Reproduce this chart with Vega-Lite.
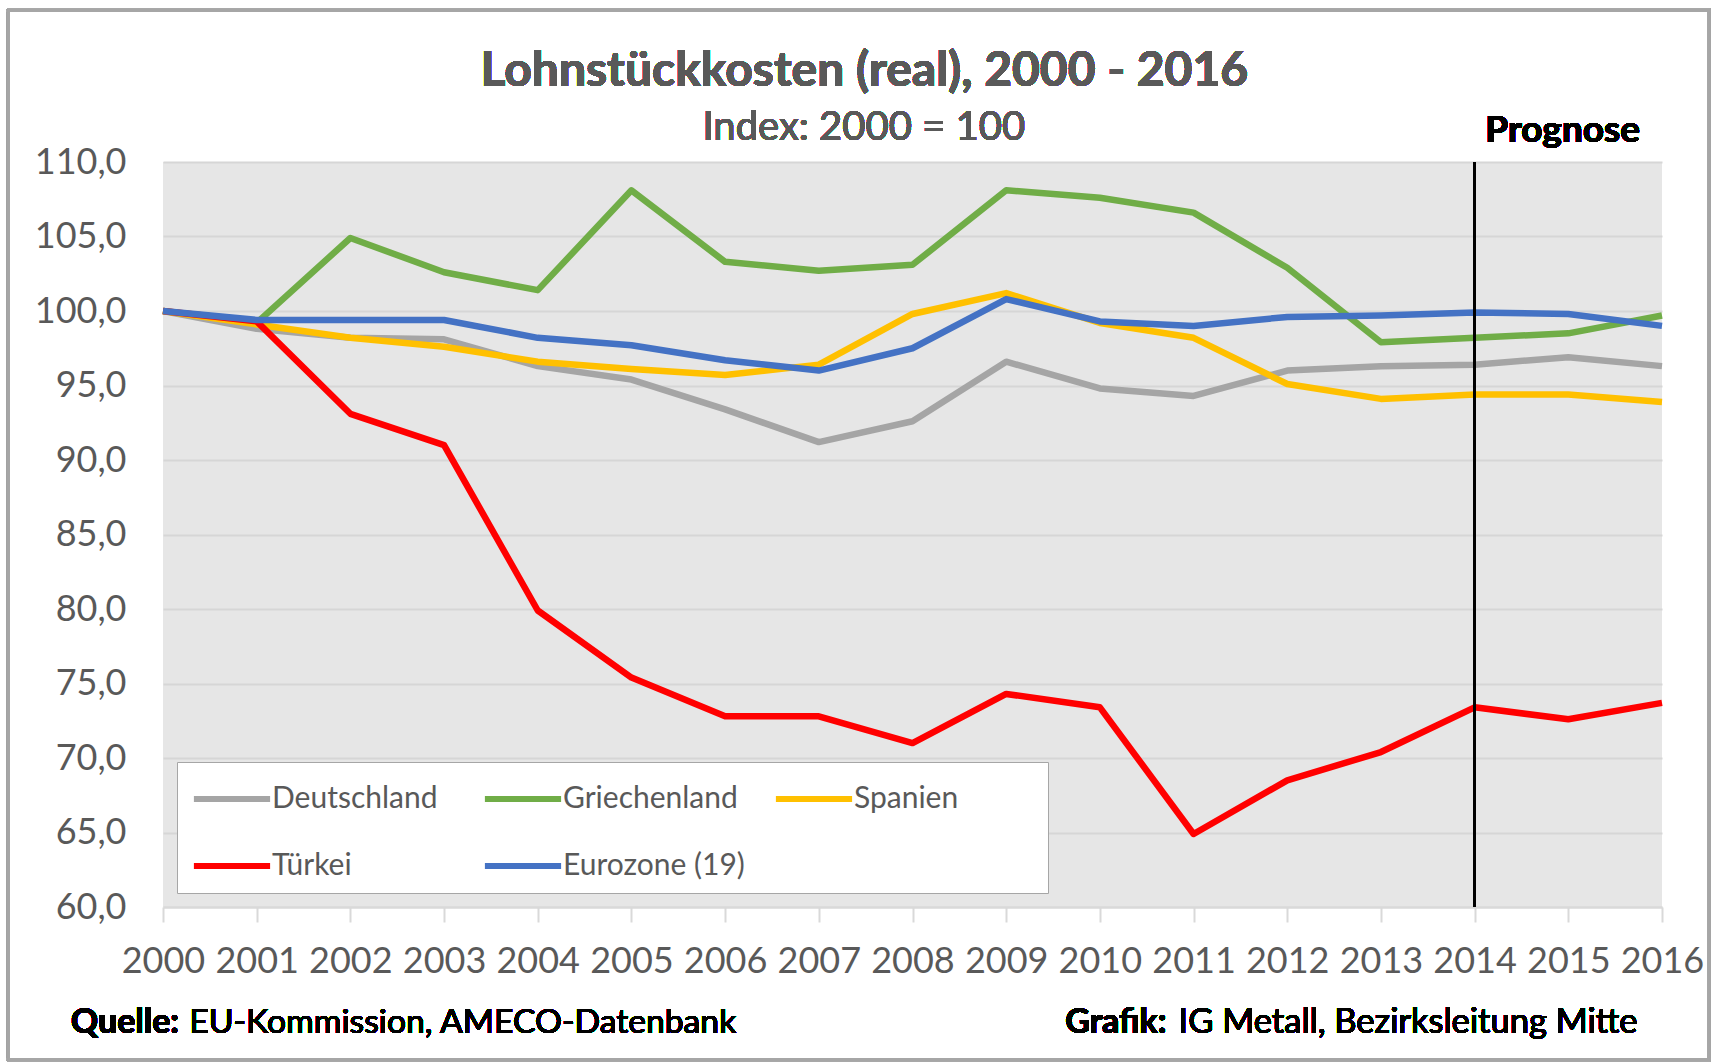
{
  "$schema": "https://vega.github.io/schema/vega-lite/v6.json",
  "width": 1499,
  "height": 745,
  "autosize": {"type": "none"},
  "padding": {"left": 163, "top": 162, "right": 57, "bottom": 156},
  "background": "white",
  "data": {
    "values": [
      {"year": 2000, "series": "Deutschland", "value": 100.0},
      {"year": 2001, "series": "Deutschland", "value": 98.8},
      {"year": 2002, "series": "Deutschland", "value": 98.2},
      {"year": 2003, "series": "Deutschland", "value": 98.1},
      {"year": 2004, "series": "Deutschland", "value": 96.3},
      {"year": 2005, "series": "Deutschland", "value": 95.4},
      {"year": 2006, "series": "Deutschland", "value": 93.4},
      {"year": 2007, "series": "Deutschland", "value": 91.2},
      {"year": 2008, "series": "Deutschland", "value": 92.6},
      {"year": 2009, "series": "Deutschland", "value": 96.6},
      {"year": 2010, "series": "Deutschland", "value": 94.8},
      {"year": 2011, "series": "Deutschland", "value": 94.3},
      {"year": 2012, "series": "Deutschland", "value": 96.0},
      {"year": 2013, "series": "Deutschland", "value": 96.3},
      {"year": 2014, "series": "Deutschland", "value": 96.4},
      {"year": 2015, "series": "Deutschland", "value": 96.9},
      {"year": 2016, "series": "Deutschland", "value": 96.3},
      {"year": 2000, "series": "Griechenland", "value": 100.0},
      {"year": 2001, "series": "Griechenland", "value": 99.2},
      {"year": 2002, "series": "Griechenland", "value": 104.9},
      {"year": 2003, "series": "Griechenland", "value": 102.6},
      {"year": 2004, "series": "Griechenland", "value": 101.4},
      {"year": 2005, "series": "Griechenland", "value": 108.1},
      {"year": 2006, "series": "Griechenland", "value": 103.3},
      {"year": 2007, "series": "Griechenland", "value": 102.7},
      {"year": 2008, "series": "Griechenland", "value": 103.1},
      {"year": 2009, "series": "Griechenland", "value": 108.1},
      {"year": 2010, "series": "Griechenland", "value": 107.6},
      {"year": 2011, "series": "Griechenland", "value": 106.6},
      {"year": 2012, "series": "Griechenland", "value": 102.9},
      {"year": 2013, "series": "Griechenland", "value": 97.9},
      {"year": 2014, "series": "Griechenland", "value": 98.2},
      {"year": 2015, "series": "Griechenland", "value": 98.5},
      {"year": 2016, "series": "Griechenland", "value": 99.7},
      {"year": 2000, "series": "Spanien", "value": 100.0},
      {"year": 2001, "series": "Spanien", "value": 99.1},
      {"year": 2002, "series": "Spanien", "value": 98.2},
      {"year": 2003, "series": "Spanien", "value": 97.6},
      {"year": 2004, "series": "Spanien", "value": 96.6},
      {"year": 2005, "series": "Spanien", "value": 96.1},
      {"year": 2006, "series": "Spanien", "value": 95.7},
      {"year": 2007, "series": "Spanien", "value": 96.4},
      {"year": 2008, "series": "Spanien", "value": 99.8},
      {"year": 2009, "series": "Spanien", "value": 101.2},
      {"year": 2010, "series": "Spanien", "value": 99.2},
      {"year": 2011, "series": "Spanien", "value": 98.2},
      {"year": 2012, "series": "Spanien", "value": 95.1},
      {"year": 2013, "series": "Spanien", "value": 94.1},
      {"year": 2014, "series": "Spanien", "value": 94.4},
      {"year": 2015, "series": "Spanien", "value": 94.4},
      {"year": 2016, "series": "Spanien", "value": 93.9},
      {"year": 2000, "series": "Türkei", "value": 100.0},
      {"year": 2001, "series": "Türkei", "value": 99.3},
      {"year": 2002, "series": "Türkei", "value": 93.1},
      {"year": 2003, "series": "Türkei", "value": 91.0},
      {"year": 2004, "series": "Türkei", "value": 79.9},
      {"year": 2005, "series": "Türkei", "value": 75.4},
      {"year": 2006, "series": "Türkei", "value": 72.8},
      {"year": 2007, "series": "Türkei", "value": 72.8},
      {"year": 2008, "series": "Türkei", "value": 71.0},
      {"year": 2009, "series": "Türkei", "value": 74.3},
      {"year": 2010, "series": "Türkei", "value": 73.4},
      {"year": 2011, "series": "Türkei", "value": 64.9},
      {"year": 2012, "series": "Türkei", "value": 68.5},
      {"year": 2013, "series": "Türkei", "value": 70.4},
      {"year": 2014, "series": "Türkei", "value": 73.4},
      {"year": 2015, "series": "Türkei", "value": 72.6},
      {"year": 2016, "series": "Türkei", "value": 73.7},
      {"year": 2000, "series": "Eurozone (19)", "value": 100.0},
      {"year": 2001, "series": "Eurozone (19)", "value": 99.4},
      {"year": 2002, "series": "Eurozone (19)", "value": 99.4},
      {"year": 2003, "series": "Eurozone (19)", "value": 99.4},
      {"year": 2004, "series": "Eurozone (19)", "value": 98.2},
      {"year": 2005, "series": "Eurozone (19)", "value": 97.7},
      {"year": 2006, "series": "Eurozone (19)", "value": 96.7},
      {"year": 2007, "series": "Eurozone (19)", "value": 96.0},
      {"year": 2008, "series": "Eurozone (19)", "value": 97.5},
      {"year": 2009, "series": "Eurozone (19)", "value": 100.8},
      {"year": 2010, "series": "Eurozone (19)", "value": 99.3},
      {"year": 2011, "series": "Eurozone (19)", "value": 99.0},
      {"year": 2012, "series": "Eurozone (19)", "value": 99.6},
      {"year": 2013, "series": "Eurozone (19)", "value": 99.7},
      {"year": 2014, "series": "Eurozone (19)", "value": 99.9},
      {"year": 2015, "series": "Eurozone (19)", "value": 99.8},
      {"year": 2016, "series": "Eurozone (19)", "value": 99.0}
    ]
  },
  "layer": [
    {
      "mark": {"type": "line", "strokeWidth": 6.5, "strokeJoin": "round", "strokeCap": "butt"},
      "encoding": {
        "x": {
          "field": "year", "type": "quantitative", "title": null,
          "scale": {"domain": [2000, 2016], "nice": false, "zero": false},
          "axis": {
            "values": [2000, 2001, 2002, 2003, 2004, 2005, 2006, 2007, 2008, 2009, 2010, 2011, 2012, 2013, 2014, 2015, 2016],
            "format": "d", "grid": false, "domain": true, "domainColor": "#d9d9d9", "domainWidth": 2,
            "ticks": true, "tickSize": 15, "tickColor": "#d9d9d9", "tickWidth": 2,
            "labelFont": "Lato", "labelFontSize": 36, "labelColor": "#595959", "labelPadding": 22,
            "labelFlush": false, "labelOverlap": false, "labelBound": false
          }
        },
        "y": {
          "field": "value", "type": "quantitative", "title": null,
          "scale": {"domain": [60, 110], "nice": false, "zero": false},
          "axis": {
            "values": [60, 65, 70, 75, 80, 85, 90, 95, 100, 105, 110],
            "labelExpr": "replace(format(datum.value, '.1f'), '.', ',')",
            "grid": true, "gridColor": "#d6d6d6", "gridWidth": 2,
            "domain": false, "ticks": false,
            "labelFont": "Lato", "labelFontSize": 36, "labelColor": "#595959", "labelPadding": 37,
            "labelOverlap": false
          }
        },
        "color": {
          "field": "series", "type": "nominal",
          "scale": {
            "domain": ["Deutschland", "Griechenland", "Spanien", "Türkei", "Eurozone (19)"],
            "range": ["#A5A5A5", "#70AD47", "#FFC000", "#FF0000", "#4472C4"]
          },
          "legend": {
            "title": " ", "titleOrient": "right", "titleFontSize": 130, "titlePadding": 86,
            "orient": "none", "legendX": 14, "legendY": 600,
            "direction": "horizontal", "columns": 3, "gridAlign": "all",
            "fillColor": "white", "strokeColor": "#a6a6a6", "padding": 4,
            "symbolType": "M-1.27,0H1.27", "symbolSize": 3600, "symbolStrokeWidth": 6,
            "symbolOffset": 18, "labelOffset": 7, "labelLimit": 400,
            "labelFont": "Lato", "labelFontSize": 30, "labelColor": "#595959",
            "columnPadding": 18, "rowPadding": 19
          }
        }
      }
    },
    {
      "mark": {"type": "rule", "color": "black", "strokeWidth": 2},
      "encoding": {"x": {"datum": 2014, "type": "quantitative"}}
    },
    {
      "mark": {"type": "text", "text": "Lohnstückkosten (real), 2000 - 2016", "font": "Lato", "fontWeight": "bold", "fontSize": 48, "fill": "#595959", "align": "center", "baseline": "alphabetic"},
      "encoding": {"x": {"datum": 2007.486, "type": "quantitative"}, "y": {"datum": 115.11, "type": "quantitative"}}
    },
    {
      "mark": {"type": "text", "text": "Index: 2000 = 100", "font": "Lato", "fontSize": 40, "fill": "#595959", "align": "center", "baseline": "alphabetic"},
      "encoding": {"x": {"datum": 2007.48, "type": "quantitative"}, "y": {"datum": 111.48, "type": "quantitative"}}
    },
    {
      "mark": {"type": "text", "text": "Prognose", "font": "Lato", "fontWeight": "bold", "fontSize": 37, "fill": "black", "align": "center", "baseline": "alphabetic"},
      "encoding": {"x": {"datum": 2014.94, "type": "quantitative"}, "y": {"datum": 111.36, "type": "quantitative"}}
    },
    {
      "mark": {"type": "text", "text": "Quelle:", "font": "Lato", "fontWeight": "bold", "fontSize": 34, "fill": "black", "align": "left", "baseline": "alphabetic"},
      "encoding": {"x": {"datum": 1999.015, "type": "quantitative"}, "y": {"datum": 51.55, "type": "quantitative"}}
    },
    {
      "mark": {"type": "text", "text": "EU-Kommission, AMECO-Datenbank", "font": "Lato", "fontSize": 33.7, "fill": "black", "align": "left", "baseline": "alphabetic"},
      "encoding": {"x": {"datum": 2000.28, "type": "quantitative"}, "y": {"datum": 51.55, "type": "quantitative"}}
    },
    {
      "mark": {"type": "text", "text": "Grafik:", "font": "Lato", "fontWeight": "bold", "fontSize": 34, "fill": "black", "align": "left", "baseline": "alphabetic"},
      "encoding": {"x": {"datum": 2009.63, "type": "quantitative"}, "y": {"datum": 51.55, "type": "quantitative"}}
    },
    {
      "mark": {"type": "text", "text": "IG Metall, Bezirksleitung Mitte", "font": "Lato", "fontSize": 34.5, "fill": "black", "align": "left", "baseline": "alphabetic"},
      "encoding": {"x": {"datum": 2010.84, "type": "quantitative"}, "y": {"datum": 51.55, "type": "quantitative"}}
    },
    {
      "mark": {"type": "rect", "fill": null, "stroke": "#a6a6a6", "strokeWidth": 3},
      "encoding": {
        "x": {"datum": 1998.35, "type": "quantitative"},
        "x2": {"datum": 2016.505},
        "y": {"datum": 120.19, "type": "quantitative"},
        "y2": {"datum": 49.75}
      }
    }
  ],
  "config": {
    "view": {"stroke": null, "fill": "#e6e6e6"},
    "font": "Lato"
  }
}
